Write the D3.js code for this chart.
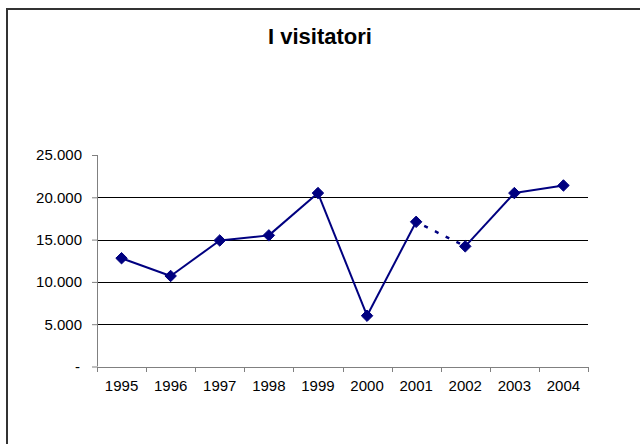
<!DOCTYPE html>
<html>
<head>
<meta charset="utf-8">
<script src="https://cdn.jsdelivr.net/npm/d3@7"></script>
<style>
  html, body { margin: 0; padding: 0; background: #fff; }
  svg { display: block; }
  text { font-family: "Liberation Sans", Arial, sans-serif; }
</style>
</head>
<body>
<svg id="chart" width="640" height="444"></svg>
<script>
const title = "I visitatori";
const years = ["1995","1996","1997","1998","1999","2000","2001","2002","2003","2004"];
const visitors = [12800, 10700, 14900, 15500, 20500, 6000, 17100, 14200, 20500, 21400];
const yTicks = [0, 5000, 10000, 15000, 20000, 25000];
const dashedFrom = "2001"; // segment 2001 -> 2002 drawn dotted

const svg = d3.select("#chart");
const plot = { left: 97, right: 588, top: 155, bottom: 366.5 };

// outer chart border (extends past the visible canvas)
svg.append("rect")
  .attr("x", 7).attr("y", 9)
  .attr("width", 700).attr("height", 500)
  .attr("fill", "#fff").attr("stroke", "#333").attr("stroke-width", 2);

svg.append("text")
  .attr("x", 320).attr("y", 44)
  .attr("text-anchor", "middle")
  .attr("font-weight", "bold")
  .attr("font-size", 22)
  .attr("fill", "#000")
  .text(title);

const x = d3.scaleBand().domain(years).range([plot.left, plot.right]).padding(0);
const y = d3.scaleLinear().domain([0, 25000]).range([plot.bottom, plot.top]);

// gridlines
svg.append("g").selectAll("line")
  .data(yTicks.filter(d => d > 0 && d < 25000))
  .join("line")
  .attr("x1", plot.left).attr("x2", plot.right)
  .attr("y1", d => Math.round(y(d)) + 0.5).attr("y2", d => Math.round(y(d)) + 0.5)
  .attr("stroke", "#000").attr("stroke-width", 1);

// y axis
const fmt = d => d === 0 ? "-" : d3.format(",")(d).replace(/,/g, ".");
const yAxis = svg.append("g")
  .attr("transform", `translate(${plot.left},0)`)
  .call(d3.axisLeft(y).tickValues(yTicks).tickFormat(fmt).tickSize(5).tickPadding(10));
yAxis.selectAll(".tick line").attr("stroke", "#808080");
yAxis.selectAll("text").attr("font-size", 15).attr("fill", "#000")
  .attr("font-family", "'Liberation Sans', Arial, sans-serif")
  .attr("dx", d => d === 0 ? -2 : 0);
yAxis.select("path.domain").attr("stroke", "#808080").attr("d", `M0.5,${plot.top}V${plot.bottom}`);

// x axis
const xAxis = svg.append("g")
  .attr("transform", `translate(0,${Math.round(plot.bottom) + 0.5})`)
  .call(d3.axisBottom(x).tickSize(0).tickPadding(13));
xAxis.select(".domain").attr("stroke", "#808080").attr("d", `M${plot.left},0H${plot.right}`);
xAxis.selectAll("text").attr("font-size", 15).attr("fill", "#000")
  .attr("font-family", "'Liberation Sans', Arial, sans-serif");
// category boundary ticks
const bounds = years.map(d => x(d)).concat([plot.right]);
svg.append("g").selectAll("line").data(bounds).join("line")
  .attr("x1", d => Math.round(d) + 0.5).attr("x2", d => Math.round(d) + 0.5)
  .attr("y1", Math.round(plot.bottom)).attr("y2", Math.round(plot.bottom) + 5)
  .attr("stroke", "#808080");

// line segments
const color = "#000080";
const cx = d => x(d) + x.bandwidth() / 2;
const pts = years.map((d, i) => ({ year: d, v: visitors[i] }));
const segs = [];
for (let i = 0; i < pts.length - 1; i++) {
  segs.push({ a: pts[i], b: pts[i + 1], dashed: pts[i].year === dashedFrom });
}
svg.append("g").selectAll("line").data(segs).join("line")
  .attr("x1", s => cx(s.a.year)).attr("y1", s => y(s.a.v))
  .attr("x2", s => cx(s.b.year)).attr("y2", s => y(s.b.v))
  .attr("stroke", color)
  .attr("stroke-width", s => s.dashed ? 2.5 : 2)
  .attr("stroke-dasharray", s => s.dashed ? "4,8" : null)
  .attr("stroke-dashoffset", s => s.dashed ? -9 : null);

// diamond markers
const diamond = d3.symbol().type(d3.symbolDiamond2).size(84);
svg.append("g").selectAll("path").data(pts).join("path")
  .attr("transform", d => `translate(${cx(d.year)},${y(d.v)})`)
  .attr("d", diamond)
  .attr("fill", color).attr("stroke", color).attr("stroke-width", 1);
</script>
</body>
</html>
